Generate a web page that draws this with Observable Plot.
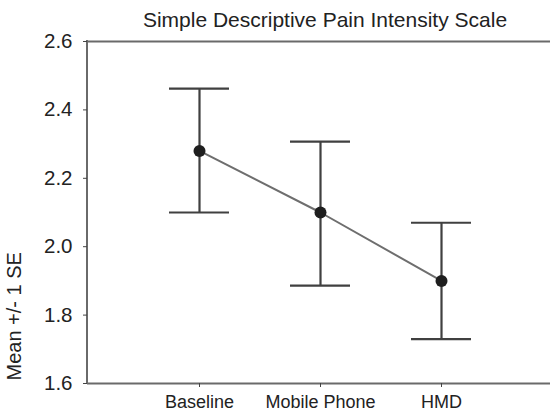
<!DOCTYPE html>
<html>
<head>
<meta charset="utf-8">
<script src="https://cdn.jsdelivr.net/npm/d3@7"></script>
<script src="https://cdn.jsdelivr.net/npm/@observablehq/plot@0.6"></script>
<style>
  html, body { margin: 0; padding: 0; background: #fff; overflow: hidden; }
  #wrap { position: relative; width: 550px; height: 411px; }
  #title { position: absolute; left: 0; top: 0; width: 550px; height: 30px; box-sizing: border-box; padding-top: 10px; padding-left: 100px;
    text-align: center; font: 21px "Liberation Sans", Arial, sans-serif; line-height: 20px; color: #222; white-space: nowrap; z-index: 1; }
</style>
</head>
<body>
<div id="wrap">
<div id="chart"></div>
<div id="title">Simple Descriptive Pain Intensity Scale</div>
</div>
<script>
const categories = ["Baseline", "Mobile Phone", "HMD"];
const means = [2.28, 2.10, 1.90];
const lower = [2.10, 1.886, 1.73];
const upper = [2.462, 2.307, 2.07];
const yTicks = [1.6, 1.8, 2.0, 2.2, 2.4, 2.6];
const yDomain = [1.6, 2.6];
const yLabel = "Mean +/- 1 SE";

const data = categories.map((c, i) => ({cat: c, mean: means[i], lo: lower[i], hi: upper[i]}));

// left axis line, drawn from the plot's own dimensions
function leftAxisLine(...args) {
  const dims = args.find(a => a && typeof a === "object" && "marginLeft" in a && "height" in a);
  const line = d3.create("svg:line")
    .attr("x1", dims.marginLeft).attr("x2", dims.marginLeft)
    .attr("y1", dims.marginTop - 1).attr("y2", dims.height - dims.marginBottom + 1)
    .attr("stroke", "#6a6a6a").attr("stroke-width", 2);
  return line.node();
}

const chart = Plot.plot({
  width: 550,
  height: 411,
  marginLeft: 87,
  marginRight: 0,
  marginTop: 41,
  marginBottom: 28,
  style: {fontFamily: '"Liberation Sans", Arial, sans-serif', color: "#222", background: "transparent"},
  x: {type: "band", domain: categories, paddingInner: 0.504, paddingOuter: 0.665, align: 0.509},
  y: {domain: yDomain},
  marks: [
    Plot.ruleY(yDomain, {stroke: "#6a6a6a", strokeWidth: 2}),
    leftAxisLine,
    Plot.axisY({ticks: yTicks, tickFormat: d3.format(".1f"), tickSize: 4, tickPadding: 11, fontSize: 20.5, label: null, stroke: "#444"}),
    Plot.axisX({tickSize: 4, tickPadding: 8, fontSize: 18, label: null, stroke: "#444"}),
    Plot.text([yLabel], {frameAnchor: "bottom-left", rotate: -90, textAnchor: "start", lineAnchor: "middle", dx: -73, dy: -3, fontSize: 20, fill: "#222"}),
    Plot.ruleX(data, {x: "cat", y1: "lo", y2: "hi", stroke: "#404040", strokeWidth: 2.2}),
    Plot.tickY(data, {x: "cat", y: "lo", stroke: "#404040", strokeWidth: 2.2}),
    Plot.tickY(data, {x: "cat", y: "hi", stroke: "#404040", strokeWidth: 2.2}),
    Plot.line(data, {x: "cat", y: "mean", stroke: "#6e6e6e", strokeWidth: 2}),
    Plot.dot(data, {x: "cat", y: "mean", r: 6, fill: "#1e1e1e", stroke: "none"})
  ]
});
document.getElementById("chart").appendChild(chart);
</script>
</body>
</html>
